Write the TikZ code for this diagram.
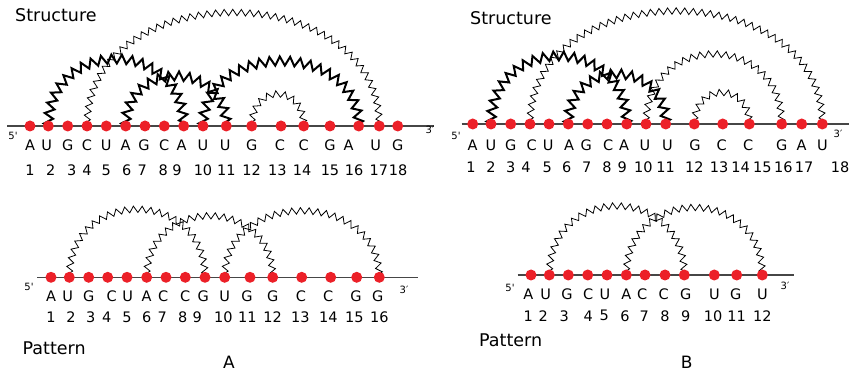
\documentclass[tikz,border=0pt]{standalone}
\usepackage{fontspec}
\setmainfont{DejaVu Sans}
\usetikzlibrary{decorations.pathmorphing}
\definecolor{dotred}{RGB}{236,32,40}
\definecolor{bbgray}{RGB}{70,70,70}
\pgfdeclarelayer{bg}
\pgfsetlayers{bg,main}
\newcommand\zarc[4]{\draw[#1] (#2.center) .. controls +(0,{-1.3333*#4}) and +(0,{-1.3333*#4}) .. (#3.center);}
\begin{document}
\begin{tikzpicture}[x=1pt,y=-1pt,
  dot/.style={circle,fill=dotred,draw=none,inner sep=0pt,minimum size=11pt},
  seq/.style={inner sep=0pt,font=\fontsize{14.5}{14.5}\selectfont},
  num/.style={inner sep=0pt,font=\fontsize{14.5}{14.5}\selectfont},
  endlab/.style={inner sep=0pt,font=\fontsize{10}{10}\selectfont},
  title/.style={inner sep=0pt,anchor=base west,font=\fontsize{17.5}{17.5}\selectfont},
  panel/.style={inner sep=0pt,anchor=base,font=\fontsize{17}{17}\selectfont},
  backbone/.style={draw=bbgray,line width=1.1pt},
  thinzig/.style={draw=black,line width=0.8pt,decorate,decoration={zigzag,segment length=8.5pt,amplitude=3.2pt}},
  thickzig/.style={draw=black,line width=2pt,line join=miter,decorate,decoration={zigzag,segment length=10pt,amplitude=4.5pt}}
]
\useasboundingbox (0,0) rectangle (849,374);

% ---------- Panel A, structure ----------
\foreach \x [count=\i] in {30,48.3,67.7,87,106.3,125.7,145,164.3,183.7,203,226.3,251.7,281,303.7,330,358.7,379.3,397.7}
  \node[dot] (sA\i) at (\x,126) {};
\foreach \x/\t [count=\i] in {30/A,46.7/U,67.7/G,87/C,106.3/U,125.7/A,144/G,164.3/C,181.7/A,203/U,225.3/U,251.7/G,280/C,303.7/C,330/G,348.7/A,375.7/U,397.7/G}
  \node[seq] (sAl\i) at (\x,145) {\t};
\foreach \x [count=\i] in {30,50.7,71.7,87,106.3,126.7,142.3,163.3,177,203,226.3,251.7,277.3,302,330,354,378.8,398.2}
  \node[num] (sAn\i) at (\x,170.5) {\i};
\coordinate (sAstart) at (7,126);
\coordinate (sAend) at (433.5,126);
\node[endlab] (sA5p) at (13,136) {5\textquotesingle};
\node[endlab] (sA3p) at (430,130) {3′};
\node[title] (sAtitle) at (15,22) {Structure};
\begin{pgfonlayer}{bg}
\draw[backbone] (sAstart) -- (sAend);
\zarc{thinzig}{sA4}{sA17}{113.5}
\zarc{thinzig}{sA12}{sA14}{32}
\zarc{thickzig}{sA2}{sA9}{67}
\zarc{thickzig}{sA6}{sA11}{50}
\zarc{thickzig}{sA10}{sA16}{65}
\end{pgfonlayer}

% ---------- Panel B, structure ----------
\foreach \x [count=\i] in {472.7,491,510.7,530,549,568.3,587.7,607,626.7,646,665.7,694.3,722.7,749.3,781.7,801.7,822.3}
  \node[dot] (sB\i) at (\x,124) {};
\foreach \x/\t [count=\i] in {472.7/A,491/U,510.7/G,531.7/C,548.3/U,569/A,586.3/G,608.3/C,624/A,645/U,667.3/U,695/G,721.7/C,748.3/C,781.7/G,801.7/A,822.3/U}
  \node[seq] (sBl\i) at (\x,145) {\t};
\foreach \x [count=\i] in {471,491,510.7,526,547.3,566.7,586.7,607,622.3,643.3,665.7,694.3,719,740.7,762.3,783.3,804,840}
  \node[num] (sBn\i) at (\x,167.5) {\i};
\coordinate (sBstart) at (461.5,124);
\coordinate (sBend) at (849,124);
\node[endlab] (sB5p) at (456,136) {5\textquotesingle};
\node[endlab] (sB3p) at (838,134) {3′};
\node[title] (sBtitle) at (470,24.5) {Structure};
\begin{pgfonlayer}{bg}
\draw[backbone] (sBstart) -- (sBend);
\zarc{thinzig}{sB4}{sB17}{113}
\zarc{thinzig}{sB10}{sB15}{70}
\zarc{thinzig}{sB12}{sB14}{31.5}
\zarc{thickzig}{sB2}{sB9}{68}
\zarc{thickzig}{sB6}{sB11}{50}
\end{pgfonlayer}

% ---------- Panel A, pattern ----------
\foreach \x [count=\i] in {51,69.3,88.7,107.7,127,146.7,166,185.3,205,224.7,250,272.7,301.7,330.7,356.7,379.3}
  \node[dot] (pA\i) at (\x,277.3) {};
\foreach \x/\t [count=\i] in {51/A,67.7/U,88.7/G,111.7/C,127.7/U,146.7/A,163.3/C,185.3/C,203.3/G,224.7/U,247/G,272.7/G,301/C,328.3/C,356/G,377.7/G}
  \node[seq] (pAl\i) at (\x,296.7) {\t};
\foreach \x [count=\i] in {51,71,90.7,106.7,127,146.7,162.3,182.7,197.3,223.3,247.3,272.7,300.3,328.3,354.3,379.3}
  \node[num] (pAn\i) at (\x,317.3) {\i};
\coordinate (pAstart) at (37,277.3);
\coordinate (pAend) at (418,277.3);
\node[endlab] (pA5p) at (29,287) {5\textquotesingle};
\node[endlab] (pA3p) at (404,290) {3′};
\node[title] (pAtitle) at (22.5,354) {Pattern};
\node[panel] (pAlab) at (229,368.5) {A};
\begin{pgfonlayer}{bg}
\draw[backbone] (pAstart) -- (pAend);
\zarc{thinzig}{pA2}{pA9}{68}
\zarc{thinzig}{pA6}{pA12}{61.5}
\zarc{thinzig}{pA10}{pA16}{66.5}
\end{pgfonlayer}

% ---------- Panel B, pattern ----------
\foreach \x [count=\i] in {531,549.3,568.3,587.7,607,626.3,645,665,684.3,714.3,736.7,762.3}
  \node[dot] (pB\i) at (\x,275) {};
\foreach \x/\t [count=\i] in {528.3/A,545.7/U,567/G,588.3/C,605/U,626.3/A,642.3/C,663.7/C,685.7/G,714.3/U,735.7/G,762.3/U}
  \node[seq] (pBl\i) at (\x,294.7) {\t};
\foreach \x [count=\i] in {528.3,543.3,564.3,588.3,604.3,625,644.3,665,685.7,713,736.7,762.3}
  \node[num] (pBn\i) at (\x,315.8) {\i};
\coordinate (pBstart) at (517.7,275);
\coordinate (pBend) at (794.3,275);
\node[endlab] (pB5p) at (510,288) {5\textquotesingle};
\node[endlab] (pB3p) at (785,286) {3′};
\node[title] (pBtitle) at (479,346) {Pattern};
\node[panel] (pBlab) at (686.7,368.5) {B};
\begin{pgfonlayer}{bg}
\draw[backbone] (pBstart) -- (pBend);
\zarc{thinzig}{pB2}{pB9}{69}
\zarc{thinzig}{pB6}{pB12}{67.5}
\end{pgfonlayer}
\end{tikzpicture}
\end{document}
